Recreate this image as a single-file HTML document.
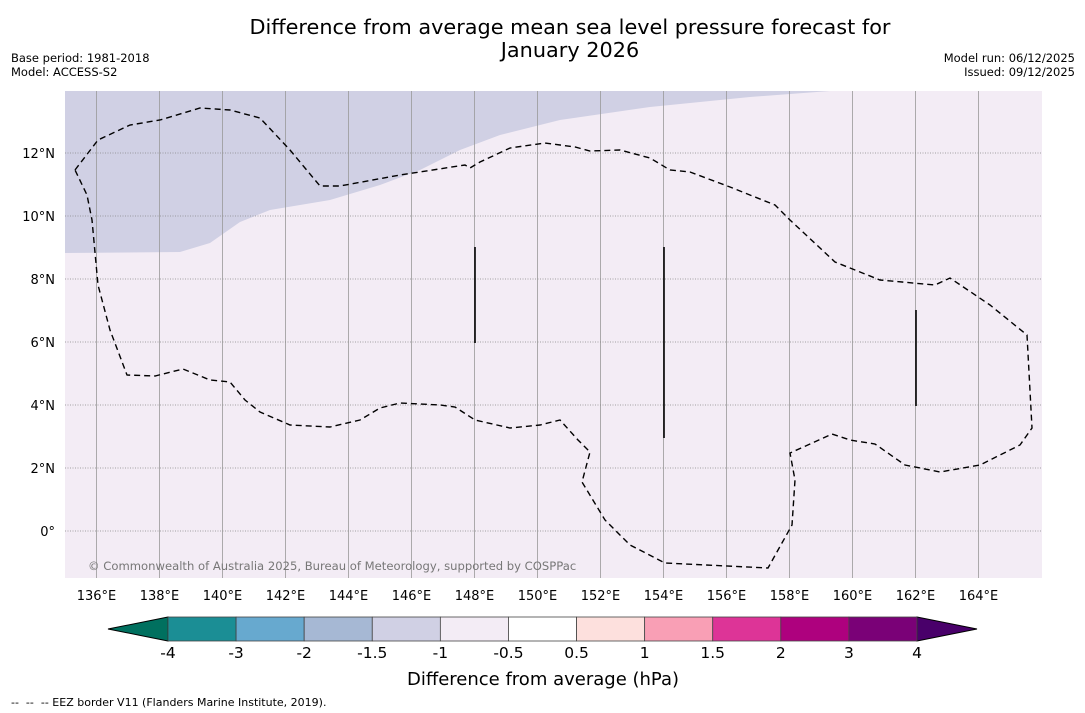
<!DOCTYPE html>
<html><head><meta charset="utf-8"><style>
body{margin:0;background:#fff;width:1085px;height:713px;overflow:hidden;font-family:"DejaVu Sans","Liberation Sans",sans-serif}
svg{position:absolute;left:0;top:0}
</style></head><body>
<svg id="s" width="1085" height="713" xmlns="http://www.w3.org/2000/svg">
<text x="570" y="34" font-size="20.8" text-anchor="middle">Difference from average mean sea level pressure forecast for</text>
<text x="570" y="57" font-size="20.8" text-anchor="middle">January 2026</text>
<text x="11" y="62" font-size="11.5">Base period: 1981-2018</text>
<text x="11" y="76" font-size="11.5">Model: ACCESS-S2</text>
<text x="1075" y="62" font-size="11.5" text-anchor="end">Model run: 06/12/2025</text>
<text x="1075" y="76" font-size="11.5" text-anchor="end">Issued: 09/12/2025</text>
<rect x="65" y="91" width="977" height="487" fill="#f3ecf5"/>
<path d="M65,91 L830,91 L750,97 L650,107 L560,120 L500,135 L460,150 L420,170 L380,185 L330,200 L300,205 L270,210 L240,222 L210,243 L180,252 L65,253 Z" fill="#d0d0e4"/>
<g id="grid"></g>
<path d="M75,170 L98,140 L130,125 L160,120 L200,108 L230,110 L260,118 L290,150 L320,186 L340,186 L400,175 L465,165 L470,168 L480,162 L510,148 L545,143 L575,147 L590,151 L620,150 L650,158 L670,170 L690,172 L730,187 L775,205 L790,220 L835,262 L880,280 L935,285 L950,278 L990,305 L1027,335 L1032,428 L1020,445 L980,465 L940,472 L905,465 L875,444 L850,440 L832,434 L810,444 L790,453 L795,480 L792,525 L768,568 L665,563 L630,545 L605,520 L582,482 L590,452 L578,440 L560,420 L540,425 L510,428 L475,420 L455,407 L440,405 L400,403 L380,408 L360,420 L330,427 L290,425 L260,412 L245,400 L230,382 L210,380 L183,369 L155,376 L127,375 L110,330 L98,285 L92,220 L87,195 Z" fill="none" stroke="#000" stroke-width="1.4" stroke-dasharray="6,4"/>
<g stroke="#000" stroke-width="1.6">
<line x1="475" y1="247" x2="475" y2="343"/><line x1="664" y1="247" x2="664" y2="438"/><line x1="916" y1="310" x2="916" y2="406"/></g>
<text x="88" y="570" font-size="11.6" fill="#777">© Commonwealth of Australia 2025, Bureau of Meteorology, supported by COSPPac</text>
<g id="cb"></g>
<text x="543" y="685" font-size="18" text-anchor="middle">Difference from average (hPa)</text>
<text x="11" y="706" font-size="11" xml:space="preserve">--  --  -- EEZ border V11 (Flanders Marine Institute, 2019).</text>
</svg>
<script>
const lonTicks=[136,138,140,142,144,146,148,150,152,154,156,158,160,162,164];
const latTicks=[0,2,4,6,8,10,12];
const cbLabels=["-4","-3","-2","-1.5","-1","-0.5","0.5","1","1.5","2","3","4"];
const cbColors=["#1b8e95","#67a9cf","#a6b8d4","#d0d0e4","#f3ecf5","#ffffff","#fde0dd","#f99fb5","#dd3497","#ae017e","#7a0177"];
const NS="http://www.w3.org/2000/svg";
const X=lon=>65+(lon-135)*31.5, Y=lat=>531-lat*31.5;
function mk(t,a,p){const e=document.createElementNS(NS,t);for(const k in a)e.setAttribute(k,a[k]);p.appendChild(e);return e;}
const g=document.getElementById('grid');
lonTicks.forEach(l=>{const x=X(l);
 const ln=mk('line',{x1:x,y1:91,x2:x,y2:578,stroke:'#999','stroke-width':0.8},g);
 
 const t=mk('text',{x:x,y:600,'font-size':13,'text-anchor':'middle'},g);t.textContent=l+'°E';
 });
latTicks.forEach(l=>{const y=Y(l);
 const ln=mk('line',{x1:65,y1:y,x2:1042,y2:y,stroke:'#888','stroke-width':0.8,'stroke-dasharray':'1,1.5'},g);
 
 const t=mk('text',{x:55,y:y+5,'font-size':13,'text-anchor':'end'},g);t.textContent=l===0?'0°':l+'°N';
 });
const cb=document.getElementById('cb');const x0=168,x1=917,w=(x1-x0)/cbColors.length;
const lt=mk('path',{d:`M${x0},617 L108,629 L${x0},641 Z`,fill:'#00705f',stroke:'#000','stroke-width':1},cb);

const rt=mk('path',{d:`M${x1},617 L977,629 L${x1},641 Z`,fill:'#49006a',stroke:'#000','stroke-width':1},cb);

cbColors.forEach((c,i)=>{const r=mk('rect',{x:x0+i*w,y:617,width:w,height:24,fill:c,stroke:'#444','stroke-width':0.8},cb);
 });
cbLabels.forEach((l,i)=>{const t=mk('text',{x:x0+i*w,y:658,'font-size':15.5,'text-anchor':'middle'},cb);t.textContent=l;
 });
</script>
</body></html>
